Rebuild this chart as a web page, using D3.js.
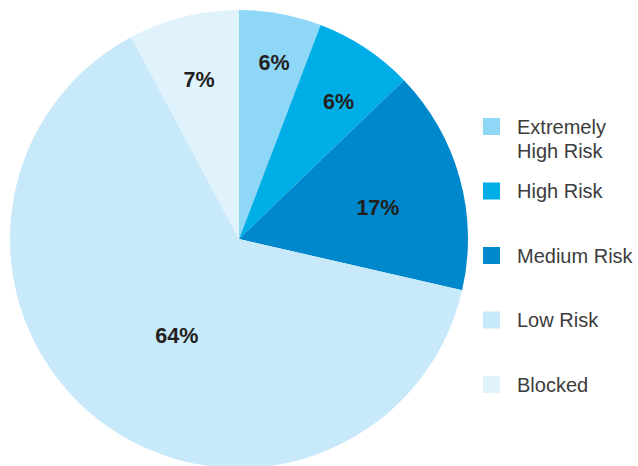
<!DOCTYPE html>
<html lang="en">
<head>
<meta charset="UTF-8">
<title>Risk distribution</title>
<script src="https://d3js.org/d3.v7.min.js"></script>
<style>
  body { margin: 0; background: #fff; }
  svg { display: block; }
  .slice-label { font-family: "Liberation Sans", Arial, sans-serif; font-weight: bold; font-size: 21.5px; fill: #231f20; }
  .legend text { font-family: "Liberation Sans", Arial, sans-serif; font-size: 20px; fill: #3c3c3c; }
</style>
</head>
<body>
<svg width="638" height="466"></svg>
<script>
// categories, in clockwise order from 12 o'clock
const categories = ["Extremely High Risk", "High Risk", "Medium Risk", "Low Risk", "Blocked"];
// share of each slice as drawn (percent)
const shares = [5.8, 7.0, 15.8, 63.6, 7.8];
// percentages as printed on the chart
const printed = ["6%", "6%", "17%", "64%", "7%"];
const colors = ["#8fd7f7", "#00aee7", "#0088cc", "#c7e9f9", "#e0f2fc"];
const legendLines = [["Extremely", "High Risk"], ["High Risk"], ["Medium Risk"], ["Low Risk"], ["Blocked"]];

const svg = d3.select("svg");
const cx = 239, cy = 239, R = 229;

const pie = d3.pie().sort(null).value(d => d)(shares);
const arc = d3.arc().innerRadius(0).outerRadius(R);

const g = svg.append("g").attr("transform", `translate(${cx},${cy})`);
g.selectAll("path")
  .data(pie)
  .join("path")
  .attr("d", arc)
  .attr("fill", (d, i) => colors[i]);

// label placement: distance from centre (fraction of radius) and a small angle nudge (degrees)
const labelFrac = [0.786, 0.741, 0.622, 0.502, 0.718];
const labelNudge = [0.8, 2.4, 2.7, -4.7, 0];
g.selectAll("text")
  .data(pie)
  .join("text")
  .attr("class", "slice-label")
  .attr("text-anchor", "middle")
  .attr("dy", "0.36em")
  .attr("transform", (d, i) => {
    const a = (d.startAngle + d.endAngle) / 2 + labelNudge[i] * Math.PI / 180;
    const r = R * labelFrac[i];
    return `translate(${Math.sin(a) * r},${-Math.cos(a) * r})`;
  })
  .text((d, i) => printed[i]);

// legend
const ly = d3.scalePoint().domain(categories).range([118, 376]);
const legend = svg.append("g").attr("class", "legend");
const item = legend.selectAll("g")
  .data(categories)
  .join("g")
  .attr("transform", d => `translate(483,${ly(d)})`);

item.append("rect")
  .attr("width", 17)
  .attr("height", 17)
  .attr("fill", (d, i) => colors[i]);

item.append("text")
  .attr("x", 34)
  .attr("y", 15.5)
  .selectAll("tspan")
  .data((d, i) => legendLines[i])
  .join("tspan")
  .attr("x", 34)
  .attr("dy", (d, j) => j === 0 ? 0 : 24.5)
  .text(d => d);
</script>
</body>
</html>
